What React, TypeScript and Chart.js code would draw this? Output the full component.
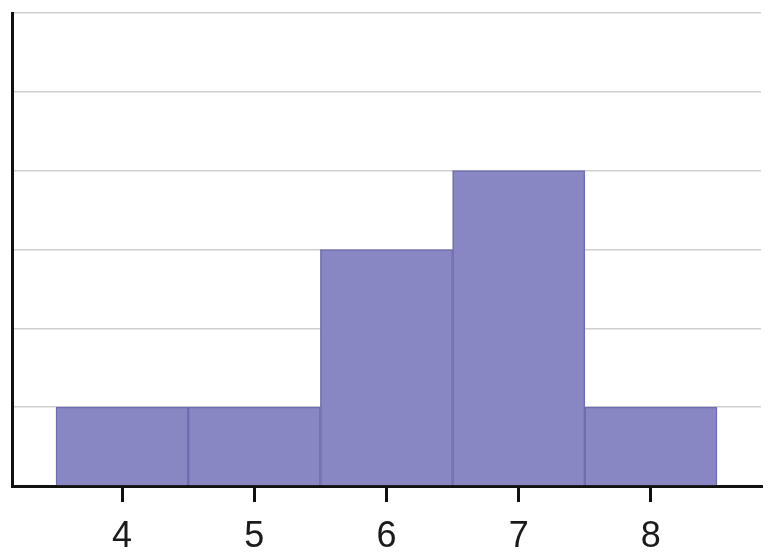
import { useEffect, useRef } from "react"
import { Chart, registerables, type ChartConfiguration } from "chart.js"

Chart.register(...registerables)

// histogram: values 4..8, frequencies
const values = [4, 5, 6, 7, 8]
const counts = [1, 1, 3, 4, 1]
const yMax = 6

const BAR_FILL   = '#8987c3'
const BAR_BORDER = '#6e6cb1'
const GRID       = '#cfcfcf'
const AXIS       = '#111111'

export default function App() {
  const canvasRef = useRef<HTMLCanvasElement>(null)
  const chartRef  = useRef<Chart | null>(null)

  useEffect(() => {
    document.body.style.margin = '0'
    if (!canvasRef.current) return
    chartRef.current?.destroy()

    const cfg: ChartConfiguration = {
      type: 'bar',
      data: {
        datasets: [{
          data: values.map((v, i) => ({ x: v, y: counts[i] })),
          backgroundColor: BAR_FILL,
          borderColor: BAR_BORDER,
          borderWidth: 1.5,
          barPercentage: 1,
          categoryPercentage: 1,
        }]
      },
      options: {
        responsive: true,
        maintainAspectRatio: false,
        animation: false,
        layout: { padding: { left: 12, right: 12, top: 13, bottom: 0 } },
        plugins: { legend: { display: false }, tooltip: { enabled: false } },
        scales: {
          x: {
            type: 'linear',
            min: 3.167,
            max: 8.833,
            offset: false,
            z: 1,
            afterBuildTicks: (axis) => { axis.ticks = values.map(v => ({ value: v })) },
            // fix the axis band so the baseline lands where the reference has it
            afterFit: (scale) => { scale.height = 74 },
            ticks: {
              font: { size: 36, lineHeight: 0.9, family: '"Liberation Sans", Arial, sans-serif' },
              color: '#1a1a1a',
              padding: 19,
              maxRotation: 0,
            },
            grid: { offset: false, drawOnChartArea: false, drawTicks: true, tickLength: 16, color: AXIS, lineWidth: 3 },
            border: { display: true, color: AXIS, width: 3 },
          },
          y: {
            min: 0,
            max: yMax,
            ticks: { stepSize: 1, display: false },
            grid: { color: GRID, lineWidth: 1.5, drawTicks: false },
            border: { display: true, color: AXIS, width: 3 },
          }
        }
      }
    }
    chartRef.current = new Chart(canvasRef.current, cfg)
    return () => { chartRef.current?.destroy() }
  }, [])

  return (
    <div style={{ width: 773, height: 560, position: 'relative', background: '#fff' }}>
      <canvas ref={canvasRef} />
    </div>
  )
}
